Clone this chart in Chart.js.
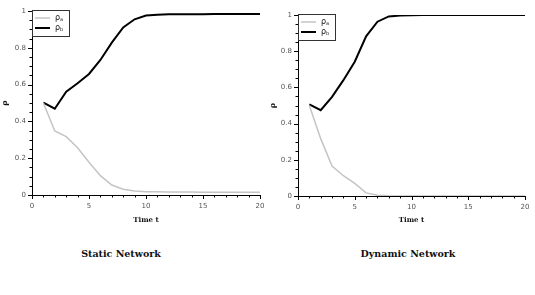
<!DOCTYPE html>
<html><head><meta charset="utf-8">
<script src="https://cdn.jsdelivr.net/npm/chart.js@4.4.0/dist/chart.umd.min.js"></script>
<style>
html,body{margin:0;padding:0;background:#fff;width:535px;height:295px;overflow:hidden;position:relative}
.box{position:absolute;top:0}
.cap{position:absolute;font-family:"DejaVu Serif",serif;font-weight:bold;font-size:9.5px;color:#111;transform:translateX(-50%);white-space:nowrap}
</style></head><body>
<div class="box" style="left:0;width:268px;height:230px"><canvas id="c1"></canvas></div>
<div class="box" style="left:268px;width:267px;height:230px"><canvas id="c2"></canvas></div>
<div class="cap" style="left:121px;top:248px">Static Network</div>
<div class="cap" style="left:408px;top:248px">Dynamic Network</div>
<script>
const timeSteps = [1,2,3,4,5,6,7,8,9,10,11,12,13,14,15,16,17,18,19,20];
const seriesLabels = ['ρa','ρb'];
const staticA = [0.5,0.348,0.317,0.257,0.178,0.105,0.054,0.031,0.022,0.018,0.017,0.016,0.016,0.016,0.015,0.015,0.015,0.015,0.015,0.015];
const staticB = [0.502,0.469,0.562,0.607,0.658,0.734,0.828,0.911,0.955,0.975,0.980,0.982,0.983,0.983,0.983,0.984,0.984,0.984,0.984,0.984];
const dynamicA = [0.5,0.317,0.166,0.112,0.070,0.017,0.004,0.001,0,0,0,0,0,0,0,0,0,0,0,0];
const dynamicB = [0.506,0.474,0.548,0.640,0.742,0.882,0.963,0.992,0.997,0.999,1,1,1,1,1,1,1,1,1,1];
const xTicks = [0,5,10,15,20];
const yTicks = [0,0.2,0.4,0.6,0.8,1];

const minorTicks = {
  id:'minorTicks',
  afterDraw(chart){
    const ctx=chart.ctx, xs=chart.scales.x, ys=chart.scales.y;
    ctx.save(); ctx.strokeStyle='#000'; ctx.lineWidth=1;
    const bottom=ys.bottom, left=xs.left;
    for(let v=0; v<=20; v++){
      const px=Math.round(xs.getPixelForValue(v))+0.5;
      const len = v%5===0?4:2.5;
      ctx.beginPath(); ctx.moveTo(px,bottom); ctx.lineTo(px,bottom+len); ctx.stroke();
    }
    for(let i=0;i<=20;i++){
      const v=i*0.05;
      const py=Math.round(ys.getPixelForValue(v))+0.5;
      const len = i%4===0?4:2.5;
      ctx.beginPath(); ctx.moveTo(left,py); ctx.lineTo(left-len,py); ctx.stroke();
    }
    ctx.restore();
  }
};
const boxLegend = {
  id:'boxLegend',
  afterDraw(chart){
    const ctx=chart.ctx, a=chart.chartArea;
    const x0=a.left, y0=a.top-1, w=37, h=26;
    ctx.save();
    ctx.fillStyle='#fff'; ctx.fillRect(x0,y0,w,h);
    ctx.strokeStyle='#333'; ctx.lineWidth=1;
    ctx.strokeRect(x0+0.5,y0+0.5,w,h);
    chart.data.datasets.forEach((ds,i)=>{
      const yy=y0+8+i*10;
      ctx.strokeStyle=ds.borderColor; ctx.lineWidth=ds.borderWidth;
      ctx.beginPath(); ctx.moveTo(x0+3,yy); ctx.lineTo(x0+18,yy); ctx.stroke();
      ctx.fillStyle='#222'; ctx.textBaseline='middle'; ctx.textAlign='left';
      ctx.font='8px "DejaVu Sans"';
      ctx.fillText(ds.label[0],x0+23,yy);
      const wr=ctx.measureText(ds.label[0]).width;
      ctx.font='5px "DejaVu Sans"';
      ctx.fillText(ds.label.slice(1),x0+23+wr,yy+2);
    });
    ctx.restore();
  }
};
function makeChart(id, a, b, yw, padR, padT, xh){
  return new Chart(document.getElementById(id),{
    type:'line',
    data:{datasets:[
      {label:seriesLabels[0],data:timeSteps.map((t,i)=>({x:t,y:a[i]})),borderColor:'#c4c4c4',borderWidth:1.5,pointRadius:0,fill:false,tension:0},
      {label:seriesLabels[1],data:timeSteps.map((t,i)=>({x:t,y:b[i]})),borderColor:'#000',borderWidth:2,pointRadius:0,fill:false,tension:0}
    ]},
    options:{
      responsive:true,maintainAspectRatio:false,animation:false,
      layout:{padding:{left:0,right:padR,top:padT,bottom:0}},
      plugins:{legend:{display:false},tooltip:{enabled:false}},
      scales:{
        x:{type:'linear',min:0,max:20,
          afterBuildTicks:s=>{s.ticks=xTicks.map(v=>({value:v}));},
          afterFit:s=>{s.height=xh;},
          grid:{drawOnChartArea:false,tickLength:4,tickColor:'rgba(0,0,0,0)'},
          border:{display:true,color:'#000',width:1},
          ticks:{color:'#555',font:{family:'DejaVu Sans',size:7},padding:3,maxRotation:0,callback:v=>String(v)},
          title:{display:true,text:'Time t',color:'#111',font:{family:'DejaVu Serif',weight:'bold',size:7},padding:{top:2,bottom:6}}
        },
        y:{min:0,max:1,
          afterBuildTicks:s=>{s.ticks=yTicks.map(v=>({value:v}));},
          afterFit:s=>{s.width=yw;},
          grid:{drawOnChartArea:false,tickLength:4,tickColor:'rgba(0,0,0,0)'},
          border:{display:true,color:'#000',width:1},
          ticks:{color:'#555',font:{family:'DejaVu Sans',size:7},padding:2,callback:v=>String(Math.round(v*10)/10)},
          title:{display:true,text:'ρ',color:'#111',font:{family:'DejaVu Serif',weight:'bold',size:8},padding:0}
        }
      }
    },
    plugins:[minorTicks,boxLegend]
  });
}
makeChart('c1',staticA,staticB,32,8,11,35);
makeChart('c2',dynamicA,dynamicB,30,10,15,34);
</script>
</body></html>
